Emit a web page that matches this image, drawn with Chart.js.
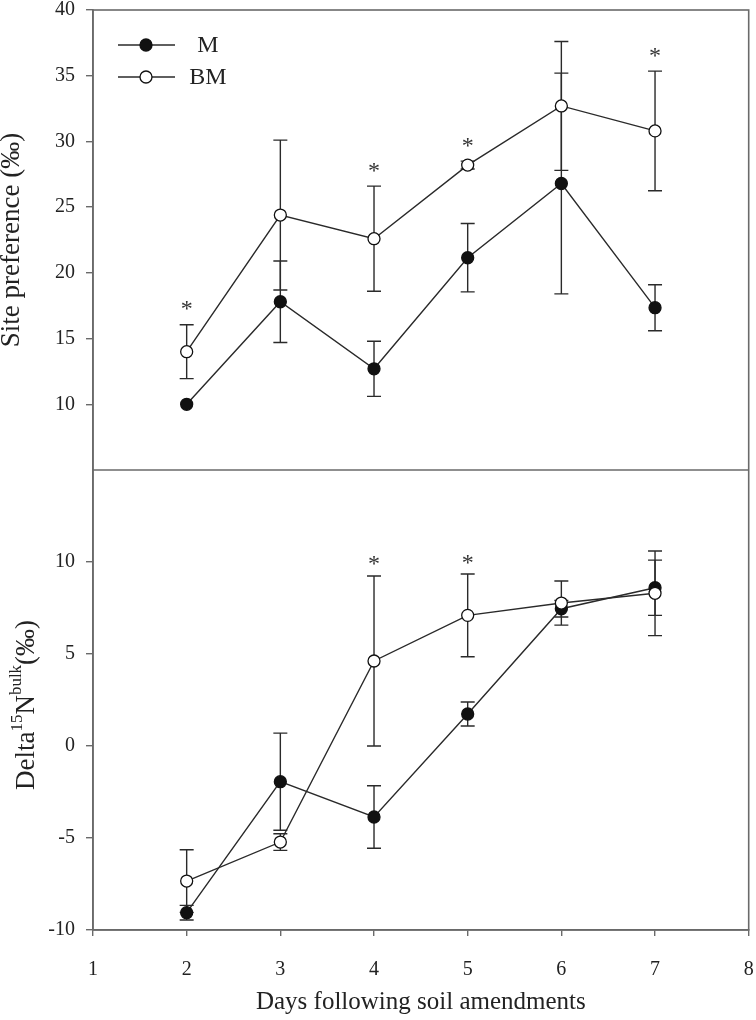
<!DOCTYPE html>
<html><head><meta charset="utf-8">
<script src="https://cdn.jsdelivr.net/npm/chart.js@4.4.1/dist/chart.umd.min.js"></script>
<style>html,body{margin:0;padding:0;background:#fff}</style>
</head><body>
<canvas id="c" width="756" height="1020" style="width:756px;height:1020px;display:block"></canvas>
<script>
// ---- data ----
const days = [2, 3, 4, 5, 6, 7];
const xTickValues = [1, 2, 3, 4, 5, 6, 7, 8];
const seriesNames = ['M', 'BM'];
// Site preference (‰)
const spM      = [10.0, 17.8, 12.7, 21.15, 26.8, 17.35];
const spMErr   = [0.0, 3.1, 2.1, 2.6, 8.4, 1.75];
const spBM     = [14.0, 24.4, 22.6, 28.2, 32.7, 30.8];
const spBMErr  = [2.05, 5.7, 4.0, 0.3, 4.9, 4.55];
const spStars  = [17.6, null, 28.1, 30.0, null, 36.8];
// Delta 15N bulk (‰)
const dnM      = [-9.06, -1.94, -3.86, 1.74, 7.46, 8.6];
const dnMErr   = [0.4, 2.64, 1.7, 0.65, 0.45, 1.5];
const dnBM     = [-7.34, -5.22, 4.62, 7.1, 7.77, 8.3];
const dnBMErr  = [1.7, 0.45, 4.62, 2.25, 1.2, 2.3];
const dnStars  = [null, null, 10.1, 10.2, null, null];
const topTicks = [10, 15, 20, 25, 30, 35, 40];
const bottomTicks = [-10, -5, 0, 5, 10];

const FONT = "'Liberation Serif','Times New Roman',serif";
const INK = '#222';
const AXIS = '#6a6a6a';

function mkDs(label, vals, axis, filled) {
  return {
    label: label,
    data: days.map((d, i) => ({x: d, y: vals[i]})),
    yAxisID: axis,
    order: filled ? 1 : 0,
    borderColor: '#2a2a2a', borderWidth: 1.4,
    pointRadius: 6, pointHoverRadius: 6,
    pointBackgroundColor: filled ? '#111' : '#fff',
    pointBorderColor: '#111', pointBorderWidth: 1.3,
    tension: 0, fill: false
  };
}

const errorGroups = [
  [spM, spMErr, 'ySite'], [spBM, spBMErr, 'ySite'],
  [dnM, dnMErr, 'yDelta'], [dnBM, dnBMErr, 'yDelta']
];
const starGroups = [[spStars, 'ySite'], [dnStars, 'yDelta']];

const errPlugin = {
  id: 'errbars',
  beforeDatasetsDraw(chart) {
    const ctx = chart.ctx, xs = chart.scales.x;
    ctx.save();
    ctx.strokeStyle = '#2a2a2a';
    ctx.lineWidth = 1.4;
    errorGroups.forEach(([v, e, ax]) => {
      const ys = chart.scales[ax];
      days.forEach((d, i) => {
        if (!e[i]) return;
        const px = xs.getPixelForValue(d);
        const t = ys.getPixelForValue(v[i] + e[i]);
        const b = ys.getPixelForValue(v[i] - e[i]);
        ctx.beginPath();
        ctx.moveTo(px, t); ctx.lineTo(px, b);
        ctx.moveTo(px - 7, t); ctx.lineTo(px + 7, t);
        ctx.moveTo(px - 7, b); ctx.lineTo(px + 7, b);
        ctx.stroke();
      });
    });
    ctx.restore();
  },
  afterDraw(chart) {
    const ctx = chart.ctx, xs = chart.scales.x, a = chart.chartArea;
    ctx.save();
    // asterisks
    ctx.fillStyle = '#333';
    ctx.font = '24px ' + FONT;
    ctx.textAlign = 'center';
    ctx.textBaseline = 'alphabetic';
    starGroups.forEach(([v, ax]) => {
      const ys = chart.scales[ax];
      days.forEach((d, i) => {
        if (v[i] == null) return;
        ctx.fillText('*', xs.getPixelForValue(d), ys.getPixelForValue(v[i]) + 0.47 * 24);
      });
    });
    // frame + divider
    ctx.strokeStyle = AXIS;
    ctx.lineWidth = 1.6;
    ctx.strokeRect(a.left, a.top, a.right - a.left, a.bottom - a.top);
    ctx.beginPath();
    const yd = chart.scales.ySite.bottom;
    ctx.moveTo(a.left, yd); ctx.lineTo(a.right, yd);
    ctx.stroke();
    // legend
    const ly = [45, 77];
    [true, false].forEach((filled, k) => {
      ctx.strokeStyle = '#2a2a2a'; ctx.lineWidth = 1.4;
      ctx.beginPath(); ctx.moveTo(118, ly[k]); ctx.lineTo(175, ly[k]); ctx.stroke();
      ctx.beginPath(); ctx.arc(146, ly[k], 6, 0, Math.PI * 2);
      ctx.fillStyle = filled ? '#111' : '#fff'; ctx.fill();
      ctx.strokeStyle = '#111'; ctx.lineWidth = 1.3; ctx.stroke();
      ctx.fillStyle = INK; ctx.font = '24px ' + FONT;
      ctx.textAlign = 'center'; ctx.textBaseline = 'middle';
      ctx.fillText(seriesNames[k], 208, ly[k] + 1);
    });
    // bottom y title with super-scripts
    ctx.translate(34, 705);
    ctx.rotate(-Math.PI / 2);
    ctx.fillStyle = INK;
    ctx.textAlign = 'left'; ctx.textBaseline = 'alphabetic';
    const big = '27px ' + FONT, small = '17px ' + FONT;
    const parts = [['Delta', big, 0], ['15', small, -12], ['N', big, 0], ['bulk', small, -13], ['(‰)', big, 0]];
    let total = 0;
    parts.forEach(p => { ctx.font = p[1]; total += ctx.measureText(p[0]).width; });
    let xx = -total / 2;
    parts.forEach(p => { ctx.font = p[1]; ctx.fillText(p[0], xx, p[2]); xx += ctx.measureText(p[0]).width; });
    ctx.restore();
  }
};

const noPadV = s => { s.width = 93; s.paddingTop = 0; s.paddingBottom = 0; };

new Chart(document.getElementById('c'), {
  type: 'line',
  data: {
    datasets: [
      mkDs(seriesNames[0], spM, 'ySite', true),
      mkDs(seriesNames[1], spBM, 'ySite', false),
      mkDs(seriesNames[0], dnM, 'yDelta', true),
      mkDs(seriesNames[1], dnBM, 'yDelta', false)
    ]
  },
  options: {
    responsive: false,
    animation: false,
    devicePixelRatio: 1,
    layout: {padding: {top: 10, right: 0, left: 0, bottom: 0}},
    plugins: {legend: {display: false}, tooltip: {enabled: false}},
    scales: {
      x: {
        type: 'linear', min: 1, max: 8,
        afterBuildTicks: s => { s.ticks = xTickValues.map(v => ({value: v})); },
        afterFit: s => { s.height = 90; s.paddingLeft = 0; s.paddingRight = 0; },
        grid: {drawOnChartArea: false, drawTicks: true, tickLength: 6, color: AXIS, lineWidth: 1.4},
        border: {display: true, color: AXIS, width: 1.6},
        ticks: {color: INK, font: {family: FONT, size: 20}, padding: 22, maxRotation: 0},
        title: {display: true, text: 'Days following soil amendments', color: INK,
                font: {family: FONT, size: 25}, padding: {top: 0, bottom: 3}}
      },
      yDelta: {
        type: 'linear', position: 'left', stack: 'v', stackWeight: 1,
        min: -10, max: 15,
        afterBuildTicks: s => { s.ticks = bottomTicks.map(v => ({value: v})); },
        afterFit: noPadV,
        grid: {drawOnChartArea: false, drawTicks: true, tickLength: 7, color: AXIS, lineWidth: 1.4},
        border: {display: true, color: AXIS, width: 1.6},
        ticks: {color: INK, font: {family: FONT, size: 20}, padding: 11}
      },
      ySite: {
        type: 'linear', position: 'left', stack: 'v', stackWeight: 1,
        min: 5, max: 40,
        afterBuildTicks: s => { s.ticks = topTicks.map(v => ({value: v})); },
        afterFit: noPadV,
        grid: {drawOnChartArea: false, drawTicks: true, tickLength: 7, color: AXIS, lineWidth: 1.4},
        border: {display: true, color: AXIS, width: 1.6},
        ticks: {color: INK, font: {family: FONT, size: 20}, padding: 11},
        title: {display: true, text: 'Site preference (‰)', color: INK,
                font: {family: FONT, size: 27, lineHeight: 0.9}, padding: {top: 0, bottom: 0}}
      }
    }
  },
  plugins: [errPlugin]
});
</script>
</body></html>
